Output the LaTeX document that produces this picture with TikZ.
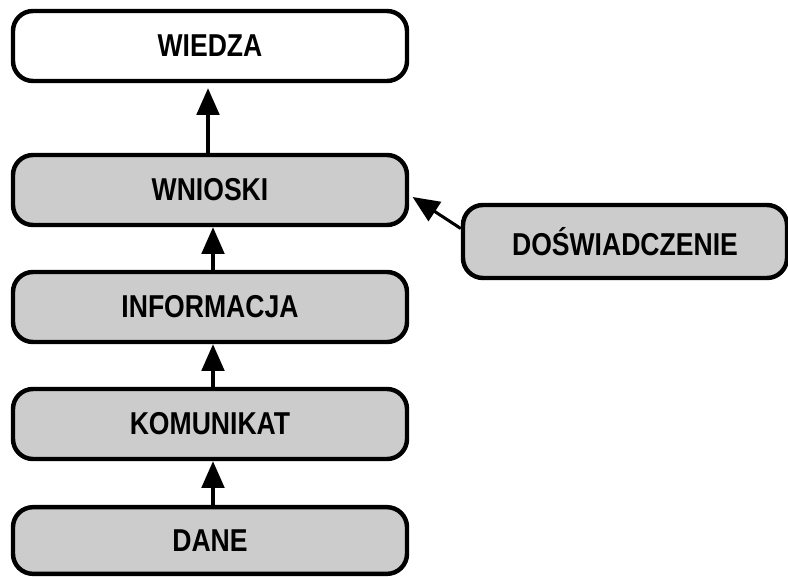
\documentclass[tikz,border=0pt]{standalone}
\usepackage{fontspec}
\setmainfont{Liberation Sans}[FakeStretch=0.84]
\definecolor{wkLine}{HTML}{000000}
\definecolor{wkFill}{HTML}{CCCCCC}
\definecolor{wkTop}{HTML}{FFFFFF}
\usepackage{tikz}
\usetikzlibrary{positioning,arrows.meta}

\tikzset{
  stage/.style={draw=wkLine, fill=wkFill, line width=3.8pt, rounded corners=0.6cm,
    minimum width=11.82cm, minimum height=2.1cm, inner sep=0pt,
    font=\fontsize{27}{32}\selectfont\bfseries},
  uparrow/.style={draw=wkLine, line width=2.6pt, -{Triangle[length=0.8cm,width=0.68cm]}}
}

\begin{document}
\begin{tikzpicture}[x=0.03cm, y=-0.03cm]
  \useasboundingbox (0,0) rectangle (788,576);
  % stages
  \node[stage, fill=wkTop] (wiedza) at (210,46) {WIEDZA};
  \node[stage] (wnioski) at (210,190) {WNIOSKI};
  \node[stage] (informacja) at (210,307) {INFORMACJA};
  \node[stage] (komunikat) at (210,424) {KOMUNIKAT};
  \node[stage, minimum height=2.0cm] (dane) at (210,540.5) {DANE};
  \node[stage, minimum width=9.72cm, minimum height=2.19cm] (doswiadczenie) at (625,241.5) {DOŚWIADCZENIE};
  % arrows
  \draw[uparrow, shorten >=0.15cm] ([xshift=-0.06cm]wnioski.north) -- ([xshift=-0.06cm]wiedza.south);
  \draw[uparrow] ([xshift=0.09cm]informacja.north) -- ([xshift=0.09cm]wnioski.south);
  \draw[uparrow] ([xshift=0.09cm]komunikat.north) -- ([xshift=0.09cm]informacja.south);
  \draw[uparrow] ([xshift=0.09cm]dane.north) -- ([xshift=0.09cm]komunikat.south);
  \draw[uparrow] ([yshift=0.39cm]doswiadczenie.west) -- ([xshift=0.1cm,yshift=-0.21cm]wnioski.east);
\end{tikzpicture}
\end{document}
